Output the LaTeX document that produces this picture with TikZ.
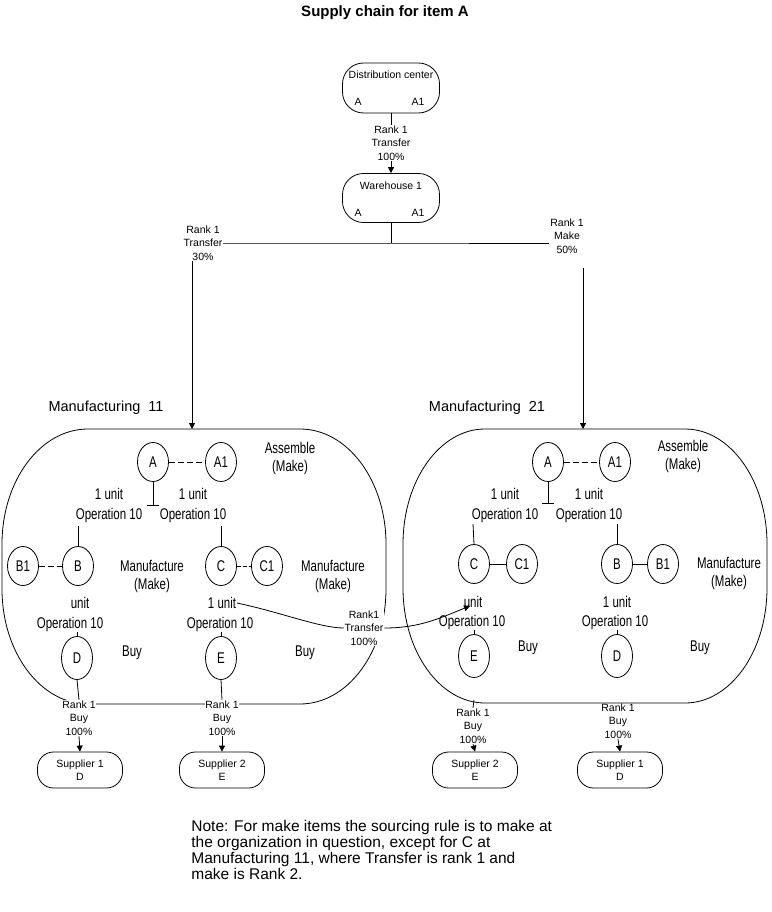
\documentclass[tikz,border=0pt]{standalone}
\usepackage{fontspec}
\setmainfont{Liberation Sans}
\newfontfamily\condf{Liberation Sans}[FakeStretch=0.74]
\usetikzlibrary{shapes.geometric,arrows.meta}
\begin{document}
\begin{tikzpicture}[x=1pt,y=-1pt,line width=0.8pt,
 sm/.style={font=\fontsize{10.5}{13.5}\selectfont, align=center, inner sep=0.5pt},
 smw/.style={sm, fill=white},
 md/.style={font=\condf\fontsize{15.5}{18}\selectfont, align=center, inner sep=0.5pt},
 mdl/.style={font=\condf\fontsize{15.5}{20}\selectfont, align=center, inner sep=0.5pt},
 big/.style={font=\fontsize{14.5}{16}\selectfont, inner sep=0pt},
 itm/.style={ellipse, draw, inner sep=0pt, minimum width=31pt, minimum height=39pt, font=\condf\fontsize{15.5}{18}\selectfont},
 itmt/.style={itm, minimum height=43pt},
 org/.style={draw, rounded corners=21pt, minimum width=97pt, minimum height=50pt},
 supbox/.style={draw, rounded corners=16pt, minimum width=85pt, minimum height=36pt, align=center, font=\fontsize{10.5}{13}\selectfont, inner sep=0pt},
 arr/.style={-{Triangle[length=6pt,width=6pt]}},
 dsh/.style={dash pattern=on 6pt off 3pt}]
\useasboundingbox (0,0) rectangle (771,912);

% title
\node[font=\bfseries\fontsize{15}{17}\selectfont] (title) at (385,13) {Supply chain for item A};

% distribution center and warehouse
\node[org] (dc) at (391,88) {};
\node[sm] (dct) at (391,75) {Distribution center};
\node[sm] (dca) at (358,102) {A};
\node[sm] (dca1) at (418,102) {A1};
\node[sm] (r0) at (391,143) {Rank 1\\Transfer\\100\%};
\node[org, minimum height=49pt] (wh) at (391,198) {};
\node[sm] (wht) at (391,186) {Warehouse 1};
\node[sm] (wha) at (358,213) {A};
\node[sm] (wha1) at (418,213) {A1};
\draw (dc.south) -- (r0.north);
\draw[arr] (r0.south) -- (wh.north);

\coordinate (j) at (391,243);
\node[smw] (lt) at (203,243) {Rank 1\\Transfer\\30\%};
\node[smw] (rt) at (567,236) {Rank 1\\Make\\50\%};
\draw (wh.south) -- (j);
\draw (lt.east) -- (j) -- (j -| rt.west);

\coordinate (lin) at (192,429);
\coordinate (rstart) at (583,268);
\coordinate (rin) at (583,429);
\draw[arr] (lt.south -| lin) -- (lin);
\draw[arr] (rstart) -- (rin);

% blobs
\node[big] (m11) at (106,408) {Manufacturing\ \ 11};
\node[big] (m21) at (487,408) {Manufacturing\ \ 21};
\draw (88,429) -- (300,429) .. controls (347.5,429) and (386,480.5) .. (386,544) -- (386,589)
  .. controls (386,652.5) and (347.5,704) .. (300,704) -- (88,704)
  .. controls (40.5,704) and (2,652.5) .. (2,589) -- (2,544)
  .. controls (2,480.5) and (40.5,429) .. cycle;
\draw (485,429) -- (685,429) .. controls (730.3,429) and (767,480.5) .. (767,544) -- (767,588)
  .. controls (767,651.5) and (730.3,703) .. (685,703) -- (485,703)
  .. controls (439.7,703) and (403,651.5) .. (403,588) -- (403,544)
  .. controls (403,480.5) and (439.7,429) .. cycle;

% ---- left: Manufacturing 11
\node[itm] (lA) at (153,462) {A};
\node[itm] (lA1) at (221,462) {A1};
\draw[dsh] (lA) -- (lA1);
\node[md] (lasm) at (290,458) {Assemble\\(Make)};
\coordinate (lT) at (153,505);
\draw (lA.south) -- (lT);
\draw ([xshift=-6pt]lT) -- ([xshift=6pt]lT);
\node[mdl] (lu1) at (109,505) {1 unit\\Operation 10};
\node[mdl] (lu2) at (193,505) {1 unit\\Operation 10};
\node[itm] (lB1) at (23,566) {B1};
\node[itm] (lB) at (78,566) {B};
\node[itm] (lC) at (221,566) {C};
\node[itm] (lC1) at (267,566) {C1};
\coordinate (lk1) at (78,526);
\coordinate (lk2) at (221,526);
\draw (lk1) -- (lB.north);
\draw (lk2) -- (lC.north);
\draw[dsh] (lB1) -- (lB);
\draw[dash pattern=on 4pt off 2pt] (lC) -- (lC1);
\node[md] (lman1) at (152,576) {Manufacture\\(Make)};
\node[md] (lman2) at (333,576) {Manufacture\\(Make)};
\node[md] (lBu) at (80,603) {unit};
\node[md] (lBop) at (70,624) {Operation 10};
\node[md] (lCu) at (222,603) {1 unit};
\node[md] (lCop) at (220,624) {Operation 10};
\node[itmt] (lD) at (77,658) {D};
\node[itmt] (lE) at (221,658) {E};
\draw (lBop.south -| lD) -- (lD.north);
\draw (lCop.south -| lE) -- (lE.north);
\node[md] (lbuy1) at (132,653) {Buy};
\node[md] (lbuy2) at (305,653) {Buy};
\node[smw] (lR1) at (79,718) {Rank 1\\Buy\\100\%};
\node[smw] (lR2) at (222,718) {Rank 1\\Buy\\100\%};
\node[supbox] (ls1) at (80,770) {Supplier 1\\D};
\node[supbox] (ls2) at (222,770) {Supplier 2\\E};
\draw (lD.south) -- (lR1.north);
\draw (lE.south) -- (lR2.north);
\draw[arr] (lR1.south) -- (ls1.north);
\draw[arr] (lR2.south) -- (ls2.north);

% ---- right: Manufacturing 21
\node[itm] (rA) at (548,462) {A};
\node[itm] (rA1) at (615,462) {A1};
\draw[dsh] (rA) -- (rA1);
\node[md] (rasm) at (683,456) {Assemble\\(Make)};
\coordinate (rT) at (548,503);
\draw (rA.south) -- (rT);
\draw ([xshift=-6pt]rT) -- ([xshift=6pt]rT);
\node[mdl] (ru1) at (505,505) {1 unit\\Operation 10};
\node[mdl] (ru2) at (589,505) {1 unit\\Operation 10};
\node[itm] (rC) at (474,564) {C};
\node[itm] (rC1) at (522,564) {C1};
\node[itm] (rB) at (617,564) {B};
\node[itm] (rB1) at (663,564) {B1};
\coordinate (rk1) at (473,524);
\coordinate (rk2) at (617,524);
\draw (rk1) -- (rC.north);
\draw (rk2) -- (rB.north);
\draw (rC) -- (rC1);
\draw (rB) -- (rB1);
\node[md] (rman) at (729,573) {Manufacture\\(Make)};
\node[md] (rCu) at (473,602) {unit};
\node[md] (rCop) at (472,622) {Operation 10};
\node[md] (rBu) at (617,602) {1 unit};
\node[md] (rBop) at (615,622) {Operation 10};
\node[itmt] (rE) at (474,656) {E};
\node[itmt] (rD) at (617,656) {D};
\draw (rCop.south -| rE) -- (rE.north);
\draw (rBop.south -| rD) -- (rD.north);
\node[md] (rbuy1) at (528,648) {Buy};
\node[md] (rbuy2) at (700,648) {Buy};
\node[sm] (rR1) at (473,726) {Rank 1\\Buy\\100\%};
\node[sm] (rR2) at (618,721) {Rank 1\\Buy\\100\%};
\node[supbox] (rs1) at (475,770) {Supplier 2\\E};
\node[supbox] (rs2) at (620,770) {Supplier 1\\D};
\coordinate (rEt) at (474,700);
\draw (rEt) -- (rR1.north);
\draw[arr] (rR1.south) -- (rs1.north);
\draw[arr] (rR2.south) -- (rs2.north);

% transfer of C from Manufacturing 11 to 21
\node[smw] (trl) at (364,628) {Rank1\\Transfer\\100\%};
\coordinate (tEnd) at (470,606);
\draw (lCu.east) .. controls (280,612) and (320,628) .. (trl.west);
\draw[arr] (trl.east) .. controls (420,628) and (440,618) .. (tEnd);

% note
\node[big, anchor=north west, align=left, font=\fontsize{15.5}{15.8}\selectfont] (note) at (191,820)
 {Note: For make items the sourcing rule is to make at\\the organization in question, except for C at\\Manufacturing 11, where Transfer is rank 1 and\\make is Rank 2.};
\end{tikzpicture}
\end{document}
